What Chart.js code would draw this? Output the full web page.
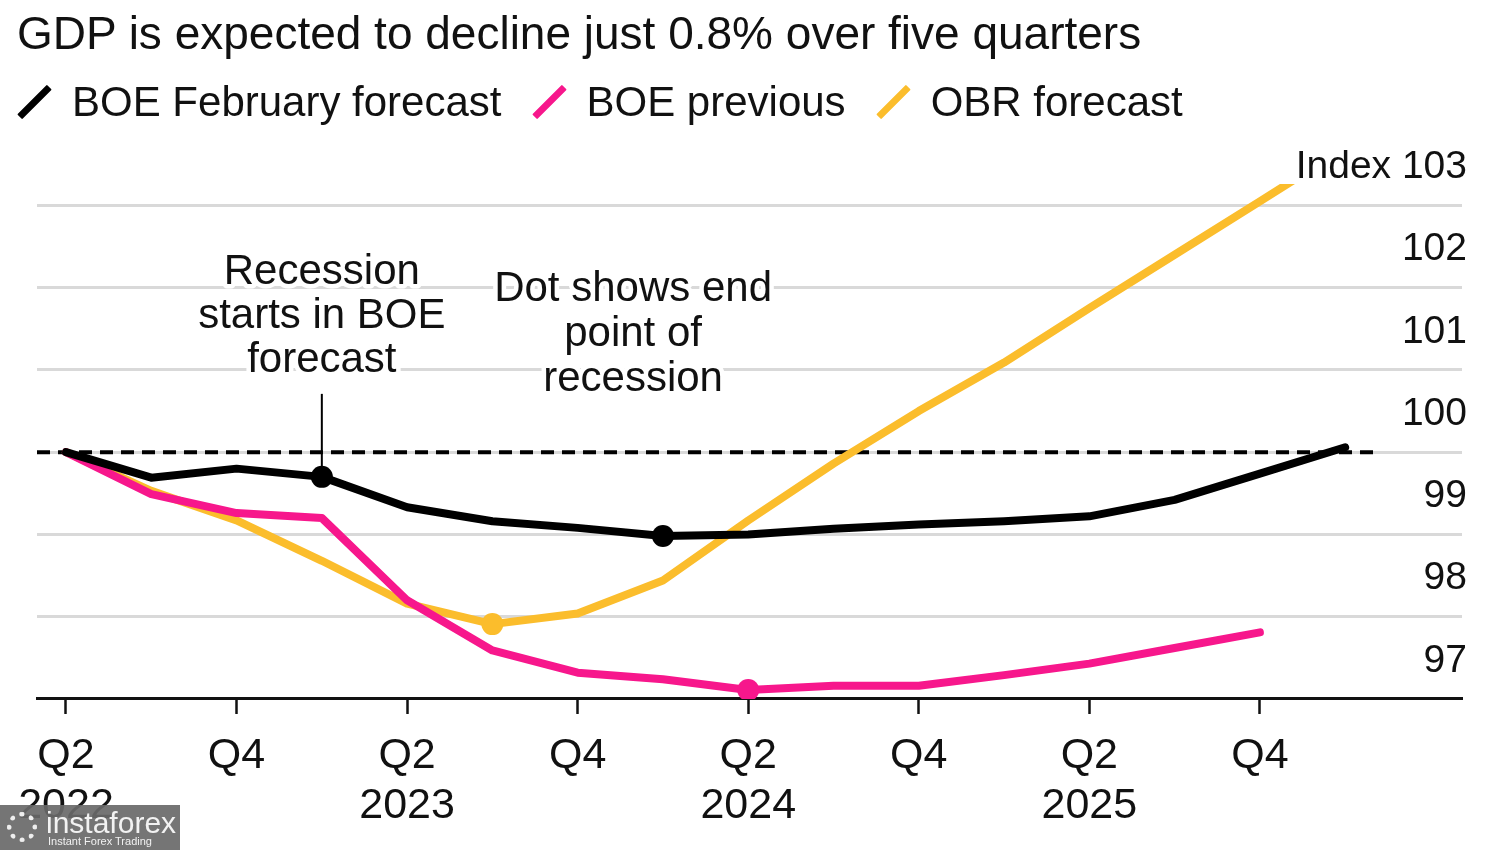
<!DOCTYPE html>
<html>
<head>
<meta charset="utf-8">
<script src="https://cdn.jsdelivr.net/npm/chart.js@4.4.1/dist/chart.umd.min.js"></script>
<style>
  html, body { margin: 0; padding: 0; background: #fff; }
  #wrap { position: relative; width: 1500px; height: 850px; overflow: hidden;
          font-family: "Liberation Sans", Arial, Helvetica, sans-serif; color: #111; }
  #title { position: absolute; left: 17px; top: 10px; font-size: 46px; line-height: 1; white-space: nowrap; }
  #legend { position: absolute; left: 18px; top: 81px; display: flex; align-items: center; font-size: 42px; line-height: 1; white-space: nowrap; }
  .item { display: flex; align-items: center; margin-right: 31px; }
  .mk { position: relative; width: 34px; height: 34px; margin-right: 20px; }
  .mk span { position: absolute; left: 13px; top: -4px; width: 7px; height: 42px; transform: rotate(45deg); border-radius: 1px; }
  #chartBox { position: absolute; left: 0; top: 0; width: 1500px; height: 850px; }
  #wm { position: absolute; left: 0; top: 805px; width: 180px; height: 45px; background: rgba(105,105,105,0.92); color: #f2f2f2; }
  #wm .big { position: absolute; left: 46px; top: 3px; font-size: 30px; line-height: 1; font-family: "Liberation Sans", Arial, sans-serif; }
  #wm .small { position: absolute; left: 48px; top: 31px; font-size: 11px; line-height: 1; }
  #wm .logo { position: absolute; left: 7px; top: 7px; width: 30px; height: 30px; border-radius: 50%; border: 5px dotted #eee; box-sizing: border-box; }
</style>
</head>
<body>
<div id="wrap">
  <div id="chartBox"><canvas id="c" width="1500" height="850"></canvas></div>
  <div id="title">GDP is expected to decline just 0.8% over five quarters</div>
  <div id="legend"></div>
  <div id="wm"><div class="logo"></div><div class="big">instaforex</div><div class="small">Instant Forex Trading</div></div>
</div>
<script>
// ---- data ----
const quarters = ['Q2 2022','Q3 2022','Q4 2022','Q1 2023','Q2 2023','Q3 2023','Q4 2023','Q1 2024',
                  'Q2 2024','Q3 2024','Q4 2024','Q1 2025','Q2 2025','Q3 2025','Q4 2025','Q1 2026'];
const boeFebruary = [100, 99.69, 99.80, 99.70, 99.33, 99.16, 99.08, 98.98, 99.00, 99.07, 99.12, 99.16, 99.22, 99.42, 99.74, 100.06];
const boePrevious = [100, 99.49, 99.26, 99.20, 98.20, 97.59, 97.32, 97.24, 97.11, 97.16, 97.16, 97.29, 97.43, 97.62, 97.81];
const obrForecast = [100, 99.53, 99.17, 98.68, 98.16, 97.91, 98.04, 98.44, 99.17, 99.86, 100.50, 101.09, 101.75, 102.40, 103.05, 103.70];
const seriesNames = ['BOE February forecast', 'BOE previous', 'OBR forecast'];
const seriesColors = ['#000000', '#f7178c', '#fbbd2c'];
const boeFebruaryDots = [3, 7];
const boePreviousDots = [8];
const obrForecastDots = [5];
const xTickIndex = [0, 2, 4, 6, 8, 10, 12, 14];
const yTickValues = [97, 98, 99, 100, 101, 102, 103];
const yTickLabels = ['97', '98', '99', '100', '101', '102', 'Index 103'];
const baselineValue = 100;
const noteStart = ['Recession', 'starts in BOE', 'forecast'];
const noteEnd = ['Dot shows end', 'point of', 'recession'];

// ---- legend (HTML) ----
const lg = document.getElementById('legend');
seriesNames.forEach((n, i) => {
  const it = document.createElement('div'); it.className = 'item';
  it.innerHTML = '<div class="mk"><span style="background:' + seriesColors[i] + '"></span></div><div>' + n + '</div>';
  lg.appendChild(it);
});

const toPts = arr => arr.map((v, i) => ({ x: i, y: v }));
const radiusFor = dots => ctx => dots.includes(ctx.dataIndex) ? 11 : 0;

const overlay = {
  id: 'overlay',
  beforeDatasetsDraw(chart) {
    const { ctx, chartArea, scales: { x, y } } = chart;
    const py = y.getPixelForValue(baselineValue);
    ctx.save();
    ctx.strokeStyle = '#000'; ctx.lineWidth = 4; ctx.setLineDash([13, 8]);
    ctx.beginPath(); ctx.moveTo(chartArea.left, py); ctx.lineTo(x.getPixelForValue(15.38), py); ctx.stroke();
    ctx.restore();
  },
  afterDatasetsDraw(chart) {
    const { ctx, scales: { x, y } } = chart;
    ctx.save();
    ctx.font = '42px "Liberation Sans", Arial, sans-serif';
    ctx.textAlign = 'center'; ctx.textBaseline = 'middle';
    ctx.lineJoin = 'round';
    const drawLines = (lines, cx, y0, gap) => {
      lines.forEach((t, i) => {
        ctx.strokeStyle = '#fff'; ctx.lineWidth = 9; ctx.strokeText(t, cx, y0 + i * gap);
        ctx.fillStyle = '#111'; ctx.fillText(t, cx, y0 + i * gap);
      });
    };
    const sx = x.getPixelForValue(boeFebruaryDots[0]);
    const sy = y.getPixelForValue(boeFebruary[boeFebruaryDots[0]]);
    drawLines(noteStart, sx, sy - 204, 44);
    ctx.strokeStyle = '#000'; ctx.lineWidth = 2;
    ctx.beginPath(); ctx.moveTo(sx, sy - 83); ctx.lineTo(sx, sy); ctx.stroke();
    drawLines(noteEnd, x.getPixelForValue(6.65), sy - 187, 45);
    ctx.restore();
  }
};

new Chart(document.getElementById('c'), {
  type: 'line',
  data: {
    datasets: [
      { label: seriesNames[0], data: toPts(boeFebruary), borderColor: seriesColors[0], backgroundColor: seriesColors[0],
        borderWidth: 8, pointRadius: radiusFor(boeFebruaryDots), pointBorderWidth: 0, tension: 0 },
      { label: seriesNames[1], data: toPts(boePrevious), borderColor: seriesColors[1], backgroundColor: seriesColors[1],
        borderWidth: 8, pointRadius: radiusFor(boePreviousDots), pointBorderWidth: 0, tension: 0 },
      { label: seriesNames[2], data: toPts(obrForecast), borderColor: seriesColors[2], backgroundColor: seriesColors[2],
        borderWidth: 8, pointRadius: radiusFor(obrForecastDots), pointBorderWidth: 0, tension: 0,
        clip: { left: 10, right: 10, top: 0, bottom: 10 } }
    ]
  },
  options: {
    responsive: false, animation: false, devicePixelRatio: 1,
    layout: { padding: { left: 37, right: 28, top: 184, bottom: 2 } },
    plugins: { legend: { display: false }, tooltip: { enabled: false }, title: { display: false } },
    elements: { line: { borderCapStyle: 'round', borderJoinStyle: 'round' } },
    scales: {
      x: {
        type: 'linear', min: -0.34, max: 16.37,
        afterBuildTicks: s => { s.ticks = xTickIndex.map(v => ({ value: v })); },
        ticks: {
          autoSkip: false, maxRotation: 0, padding: 17, color: '#111',
          font: { family: '"Liberation Sans", Arial, sans-serif', size: 43, lineHeight: 1.163 },
          callback: v => { const p = quarters[v].split(' '); return p[0] === 'Q2' ? [p[0], p[1]] : [p[0]]; }
        },
        grid: { drawOnChartArea: false, drawTicks: true, tickLength: 15, tickColor: '#111', tickWidth: 2.5 },
        border: { display: true, color: '#111', width: 3 }
      },
      y: {
        position: 'right', min: 97, max: 103.26,
        afterBuildTicks: s => { s.ticks = yTickValues.map(v => ({ value: v })); },
        ticks: {
          mirror: true, padding: 5, labelOffset: -38, color: '#111',
          font: { family: '"Liberation Sans", Arial, sans-serif', size: 39 },
          callback: v => yTickLabels[yTickValues.indexOf(v)]
        },
        grid: { color: '#d9d9d9', lineWidth: 3, drawTicks: false },
        border: { display: false }
      }
    }
  },
  plugins: [overlay]
});
</script>
</body>
</html>
